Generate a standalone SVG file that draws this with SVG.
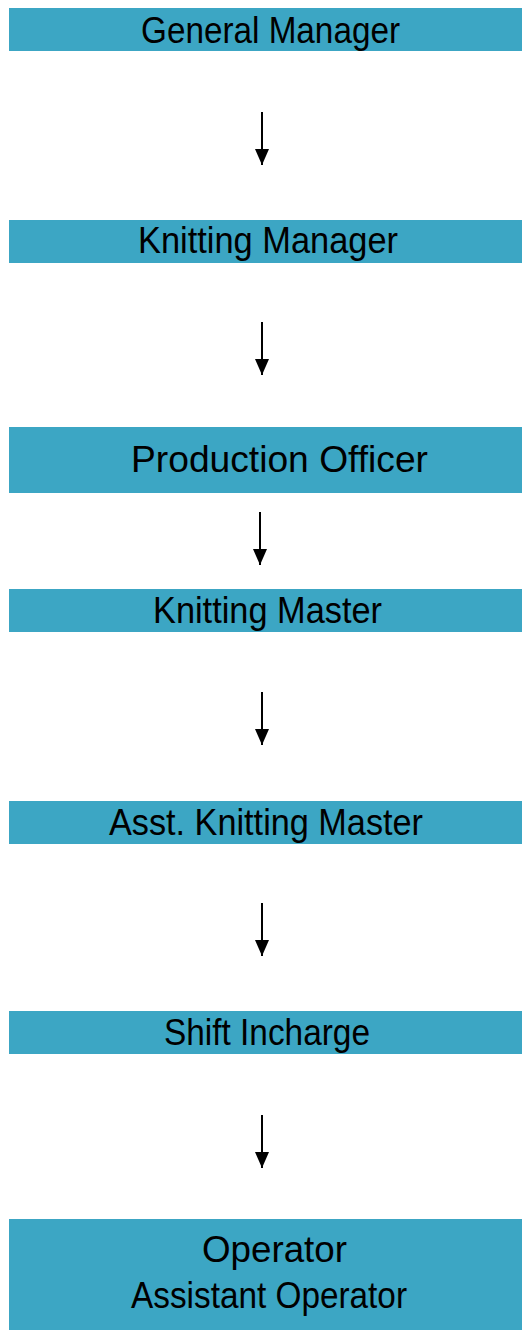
<svg xmlns="http://www.w3.org/2000/svg" width="522" height="1330" viewBox="0 0 522 1330">
  <style>
    .box { fill: #3ca6c4; }
    .lbl { font-family: "Liberation Sans", Arial, sans-serif; font-size: 37px; fill: #000; }
    .conn { stroke: #000; stroke-width: 2; fill: none; }
  </style>
  <defs>
    <!-- head drawn along +x so orient="auto" points it down the line -->
    <marker id="arrow" viewBox="0 0 16 14" refX="16" refY="7" markerWidth="16" markerHeight="14" markerUnits="userSpaceOnUse" orient="auto">
      <path d="M0,0 L16,7 L0,14 Z" fill="#000"/>
    </marker>
  </defs>
  <rect width="522" height="1330" fill="#fff"/>

  <g id="general-manager">
    <rect class="box" x="9" y="8" width="513" height="43"/>
    <text class="lbl" x="141" y="43" textLength="259" lengthAdjust="spacingAndGlyphs">General Manager</text>
  </g>
  <g id="knitting-manager">
    <rect class="box" x="9" y="220" width="513" height="43"/>
    <text class="lbl" x="138" y="253" textLength="260" lengthAdjust="spacingAndGlyphs">Knitting Manager</text>
  </g>
  <g id="production-officer">
    <rect class="box" x="9" y="427" width="513" height="66"/>
    <text class="lbl" x="131" y="472" textLength="297" lengthAdjust="spacingAndGlyphs">Production Officer</text>
  </g>
  <g id="knitting-master">
    <rect class="box" x="9" y="589" width="513" height="43"/>
    <text class="lbl" x="153" y="623" textLength="229" lengthAdjust="spacingAndGlyphs">Knitting Master</text>
  </g>
  <g id="asst-knitting-master">
    <rect class="box" x="9" y="801" width="513" height="43"/>
    <text class="lbl" x="109" y="835" textLength="314" lengthAdjust="spacingAndGlyphs">Asst. Knitting Master</text>
  </g>
  <g id="shift-incharge">
    <rect class="box" x="9" y="1011" width="513" height="43"/>
    <text class="lbl" x="164" y="1045" textLength="206" lengthAdjust="spacingAndGlyphs">Shift Incharge</text>
  </g>
  <g id="operator">
    <rect class="box" x="9" y="1219" width="513" height="111"/>
    <text class="lbl" x="202" y="1262" textLength="145" lengthAdjust="spacingAndGlyphs">Operator</text>
    <text class="lbl" x="131" y="1308" textLength="276" lengthAdjust="spacingAndGlyphs">Assistant Operator</text>
  </g>

  <g id="connectors">
    <line class="conn" x1="262" y1="112" x2="262" y2="165" marker-end="url(#arrow)"/>
    <line class="conn" x1="262" y1="322" x2="262" y2="375" marker-end="url(#arrow)"/>
    <line class="conn" x1="260" y1="512" x2="260" y2="565" marker-end="url(#arrow)"/>
    <line class="conn" x1="262" y1="692" x2="262" y2="745" marker-end="url(#arrow)"/>
    <line class="conn" x1="262" y1="903" x2="262" y2="956" marker-end="url(#arrow)"/>
    <line class="conn" x1="262" y1="1115" x2="262" y2="1168" marker-end="url(#arrow)"/>
  </g>
</svg>
